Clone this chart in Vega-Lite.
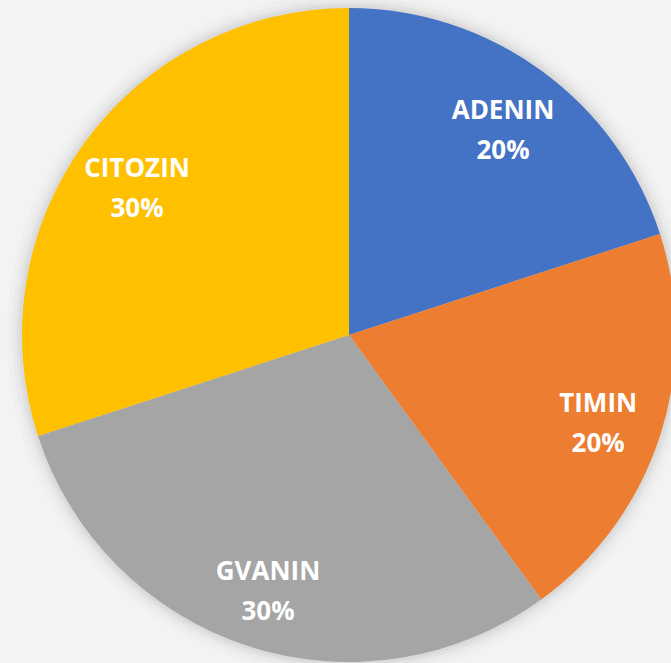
{
  "$schema": "https://vega.github.io/schema/vega-lite/v6.json",
  "autosize": "none",
  "width": 644,
  "height": 656,
  "padding": {"left": 27, "top": 7, "right": 0, "bottom": 0},
  "background": "#f3f3f3",
  "config": {"view": {"stroke": null}},
  "data": {"values": [
    {"name": "ADENIN", "value": 20, "label": "ADENIN\n20%"},
    {"name": "TIMIN", "value": 20, "label": "TIMIN\n20%"},
    {"name": "GVANIN", "value": 30, "label": "GVANIN\n30%"},
    {"name": "CITOZIN", "value": 30, "label": "CITOZIN\n30%"}
  ]},
  "layer": [
    {
      "data": {"values": [{"k": 1}]},
      "mark": {"type": "arc", "outerRadius": 342, "color": "#000000", "opacity": 0.015},
      "encoding": {}
    },
    {
      "data": {"values": [{"k": 1}]},
      "mark": {"type": "arc", "outerRadius": 337, "color": "#000000", "opacity": 0.02},
      "encoding": {}
    },
    {
      "data": {"values": [{"k": 1}]},
      "mark": {"type": "arc", "outerRadius": 333, "color": "#000000", "opacity": 0.03},
      "encoding": {}
    },
    {
      "data": {"values": [{"k": 1}]},
      "mark": {"type": "arc", "outerRadius": 330, "color": "#000000", "opacity": 0.03},
      "encoding": {}
    },
    {
      "mark": {"type": "arc", "outerRadius": 327},
      "encoding": {
        "theta": {"field": "value", "type": "quantitative", "stack": true},
        "order": {"field": "order", "type": "quantitative"},
        "color": {
          "field": "name", "type": "nominal", "legend": null,
          "scale": {"domain": ["ADENIN", "TIMIN", "GVANIN", "CITOZIN"], "range": ["#4472C4", "#ED7D31", "#A5A5A5", "#FFC000"]},
          "sort": ["ADENIN", "TIMIN", "GVANIN", "CITOZIN"]
        }
      }
    },
    {
      "mark": {"type": "text", "radius": 262, "fill": "#ffffff", "font": "Open Sans", "fontWeight": "bold", "fontSize": 26, "lineBreak": "\n", "lineHeight": 40, "dy": -12, "baseline": "middle", "align": "center"},
      "encoding": {
        "theta": {"field": "value", "type": "quantitative", "stack": true},
        "order": {"field": "order", "type": "quantitative"},
        "text": {"field": "label", "type": "nominal"}
      }
    }
  ]
}
